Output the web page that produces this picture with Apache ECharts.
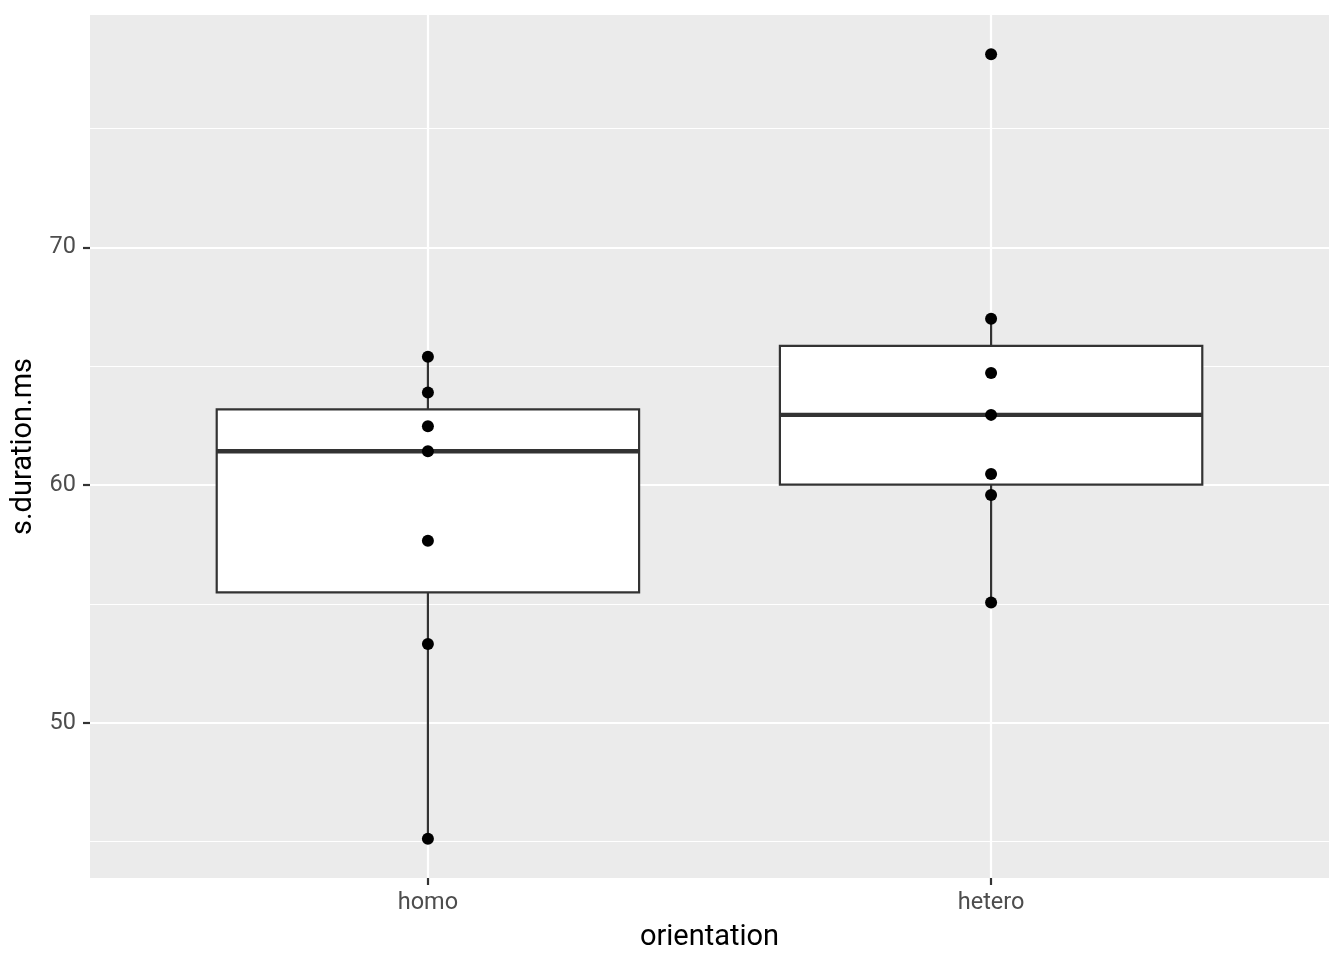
<!DOCTYPE html>
<html>
<head>
<meta charset="utf-8">
<script src="https://cdn.jsdelivr.net/npm/echarts@6/dist/echarts.min.js"></script>
<style>
html,body{margin:0;padding:0;background:#fff;}
#chart{width:1344px;height:960px;}
</style>
</head>
<body>
<div id="chart"></div>
<script>
// ---- data ----
var categories = ['homo', 'hetero'];
var homoValues = [65.40, 63.89, 62.47, 61.42, 57.66, 53.31, 45.12];
var heteroValues = [66.99, 64.71, 62.95, 60.46, 59.58, 55.06, 78.12];
var yTickLabels = [50, 60, 70];
var yMinorLines = [45, 55, 65, 75];
var seriesValues = [homoValues, heteroValues];

// ---- helpers ----
function quantile(sorted, p) {
  var h = (sorted.length - 1) * p;
  var lo = Math.floor(h), hi = Math.ceil(h);
  return sorted[lo] + (h - lo) * (sorted[hi] - sorted[lo]);
}
function boxStats(vals) {
  var s = vals.slice().sort(function (a, b) { return a - b; });
  var q1 = quantile(s, 0.25), med = quantile(s, 0.5), q3 = quantile(s, 0.75);
  var iqr = q3 - q1;
  var lowF = q1 - 1.5 * iqr, hiF = q3 + 1.5 * iqr;
  var inside = s.filter(function (v) { return v >= lowF && v <= hiF; });
  return [inside[0], q1, med, q3, inside[inside.length - 1]];
}

var boxData = [];
var pointData = [];
var allVals = [];
seriesValues.forEach(function (vals, i) {
  var st = boxStats(vals);
  boxData.push([i + 1].concat(st));
  vals.forEach(function (v) { pointData.push([i + 1, v]); allVals.push(v); });
});
var dMin = Math.min.apply(null, allVals), dMax = Math.max.apply(null, allVals);
var pad = (dMax - dMin) * 0.05;
var yMin = dMin - pad, yMax = dMax + pad;

var chart = echarts.init(document.getElementById('chart'), null, { renderer: 'canvas' });
var FONT = 'Roboto';
var BOXW = 0.75;

chart.setOption({
  animation: false,
  backgroundColor: '#ffffff',
  grid: {
    left: 90, right: 15, top: 15, bottom: 82,
    show: true, backgroundColor: '#EBEBEB', borderWidth: 0,
    containLabel: false, outerBoundsMode: 'none'
  },
  xAxis: {
    type: 'value', min: 0.4, max: 2.6,
    name: 'orientation', nameLocation: 'middle', nameGap: 45,
    nameTextStyle: { fontFamily: FONT, fontSize: 29, color: '#000000' },
    axisLine: { show: false },
    axisTick: { show: true, customValues: [1, 2], length: 7, lineStyle: { color: '#333333', width: 2.2 } },
    axisLabel: {
      customValues: [1, 2], margin: 13, fontFamily: FONT, fontSize: 23.5, color: '#4D4D4D',
      formatter: function (v) { return categories[Math.round(v) - 1] || ''; }
    },
    splitLine: { show: true, lineStyle: { color: '#FFFFFF', width: 2.2 } }
  },
  yAxis: [{
    type: 'value', min: yMin, max: yMax,
    name: 's.duration.ms', nameLocation: 'middle', nameGap: 47, nameRotate: 90,
    nameTextStyle: { fontFamily: FONT, fontSize: 29, color: '#000000' },
    axisLine: { show: false },
    axisTick: { show: true, customValues: yTickLabels, length: 7, lineStyle: { color: '#333333', width: 2.2 } },
    axisLabel: { customValues: yTickLabels, margin: 14, fontFamily: FONT, fontSize: 23.5, color: '#4D4D4D' },
    splitLine: { show: true, lineStyle: { color: '#FFFFFF', width: 2.2 } },
    z: 1
  }, {
    type: 'value', min: yMin, max: yMax, position: 'left',
    axisLine: { show: false },
    axisTick: { show: false, customValues: yMinorLines },
    axisLabel: { show: false, customValues: yMinorLines },
    splitLine: { show: true, lineStyle: { color: '#FFFFFF', width: 1.1 } },
    z: 0
  }],
  series: [{
    type: 'custom',
    xAxisIndex: 0, yAxisIndex: 0,
    data: boxData,
    encode: { x: 0, y: [1, 2, 3, 4, 5] },
    z: 2,
    renderItem: function (params, api) {
      var x = api.value(0);
      var lo = api.coord([x, api.value(1)]);
      var q1 = api.coord([x, api.value(2)]);
      var med = api.coord([x, api.value(3)]);
      var q3 = api.coord([x, api.value(4)]);
      var hi = api.coord([x, api.value(5)]);
      var left = api.coord([x - BOXW / 2, api.value(3)])[0];
      var right = api.coord([x + BOXW / 2, api.value(3)])[0];
      var stroke = { stroke: '#333333', lineWidth: 2.2, fill: null };
      return {
        type: 'group',
        children: [
          { type: 'line', shape: { x1: q3[0], y1: q3[1], x2: hi[0], y2: hi[1] }, style: stroke },
          { type: 'line', shape: { x1: q1[0], y1: q1[1], x2: lo[0], y2: lo[1] }, style: stroke },
          { type: 'rect', shape: { x: left, y: q3[1], width: right - left, height: q1[1] - q3[1] },
            style: { fill: '#FFFFFF', stroke: '#333333', lineWidth: 2.2 } },
          { type: 'line', shape: { x1: left, y1: med[1], x2: right, y2: med[1] },
            style: { stroke: '#333333', lineWidth: 4.3 } }
        ]
      };
    }
  }, {
    type: 'scatter',
    xAxisIndex: 0, yAxisIndex: 0,
    data: pointData,
    symbol: 'circle', symbolSize: 12,
    itemStyle: { color: '#000000', opacity: 1 },
    z: 3
  }]
});
</script>
</body>
</html>
